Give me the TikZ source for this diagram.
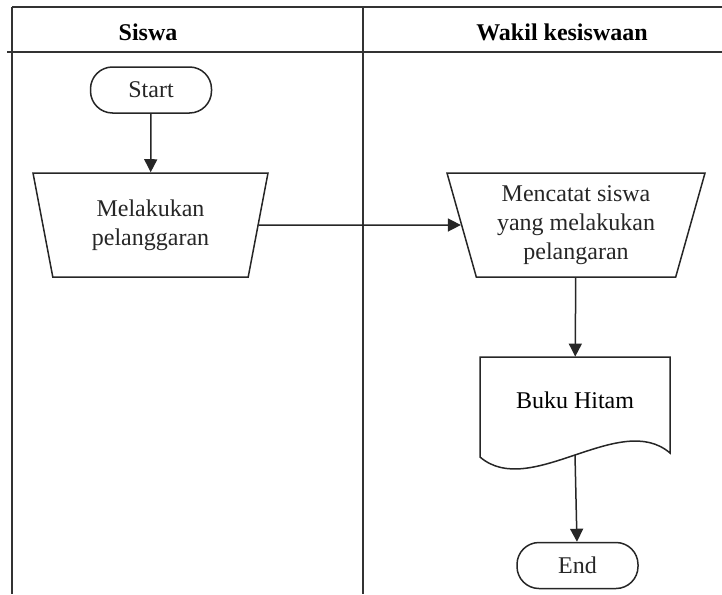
\documentclass[tikz,border=0pt]{standalone}
\usepackage{fontspec}
\setmainfont{Liberation Serif}
\usetikzlibrary{shapes.geometric,arrows.meta}

\begin{document}
\begin{tikzpicture}[x=0.5pt, y=-0.5pt,
    every node/.style={font=\fontsize{12}{14.5}\selectfont, inner sep=2pt},
    frame/.style={line width=1pt, black!80},
    line/.style={line width=0.75pt, black!85},
    flow/.style={line, -{Triangle[width=6.5pt,length=6.5pt]}},
    terminal/.style={line, draw, rectangle, rounded corners=11pt, minimum width=60.5pt, minimum height=23pt},
    manual/.style={line, draw, trapezium, shape border rotate=180,
      trapezium left angle=71.4, trapezium right angle=71.4,
      trapezium stretches body, minimum height=52pt, align=center},
    header/.style={font=\fontsize{12}{14.5}\selectfont\bfseries}]
    \useasboundingbox (0,0) rectangle (722,594);

    % Draw the swimlane frame
    \draw[frame] (12,7) -- (722,7);
    \draw[frame] (7,52) -- (722,52);
    \draw[frame] (12,7) -- (12,594);
    \draw[frame] (363,7) -- (363,594);
    \node[header] (laneA) at (148,32) {Siswa};
    \node[header] (laneB) at (562,32) {Wakil kesiswaan};

    % Draw the steps of the student lane
    \node[terminal] (start) at (151,90) {Start};
    \node[manual, minimum width=117.5pt] (melakukan) at (150.5,225) {Melakukan\\pelanggaran};

    % Draw the steps of the vice principal lane
    \node[manual, minimum width=129pt] (mencatat) at (576,225) {Mencatat siswa\\yang melakukan\\pelangaran};
    \node[minimum width=95pt, minimum height=43pt] (buku) at (575,400) {Buku Hitam};
    \draw[line] (480,357) -- (670,357) -- (670,453) .. controls (620,410) and (530,500) .. (480,457) -- cycle;
    \coordinate (bukubottom) at (575,455);
    \node[terminal] (end) at (577.5,565.5) {End};

    % Draw the flow
    \draw[flow] (start) -- (melakukan);
    \draw[flow] (melakukan) -- (mencatat);
    \draw[flow] (mencatat) -- (buku);
    \draw[flow] (bukubottom) -- (end);
  \end{tikzpicture}
\end{document}
